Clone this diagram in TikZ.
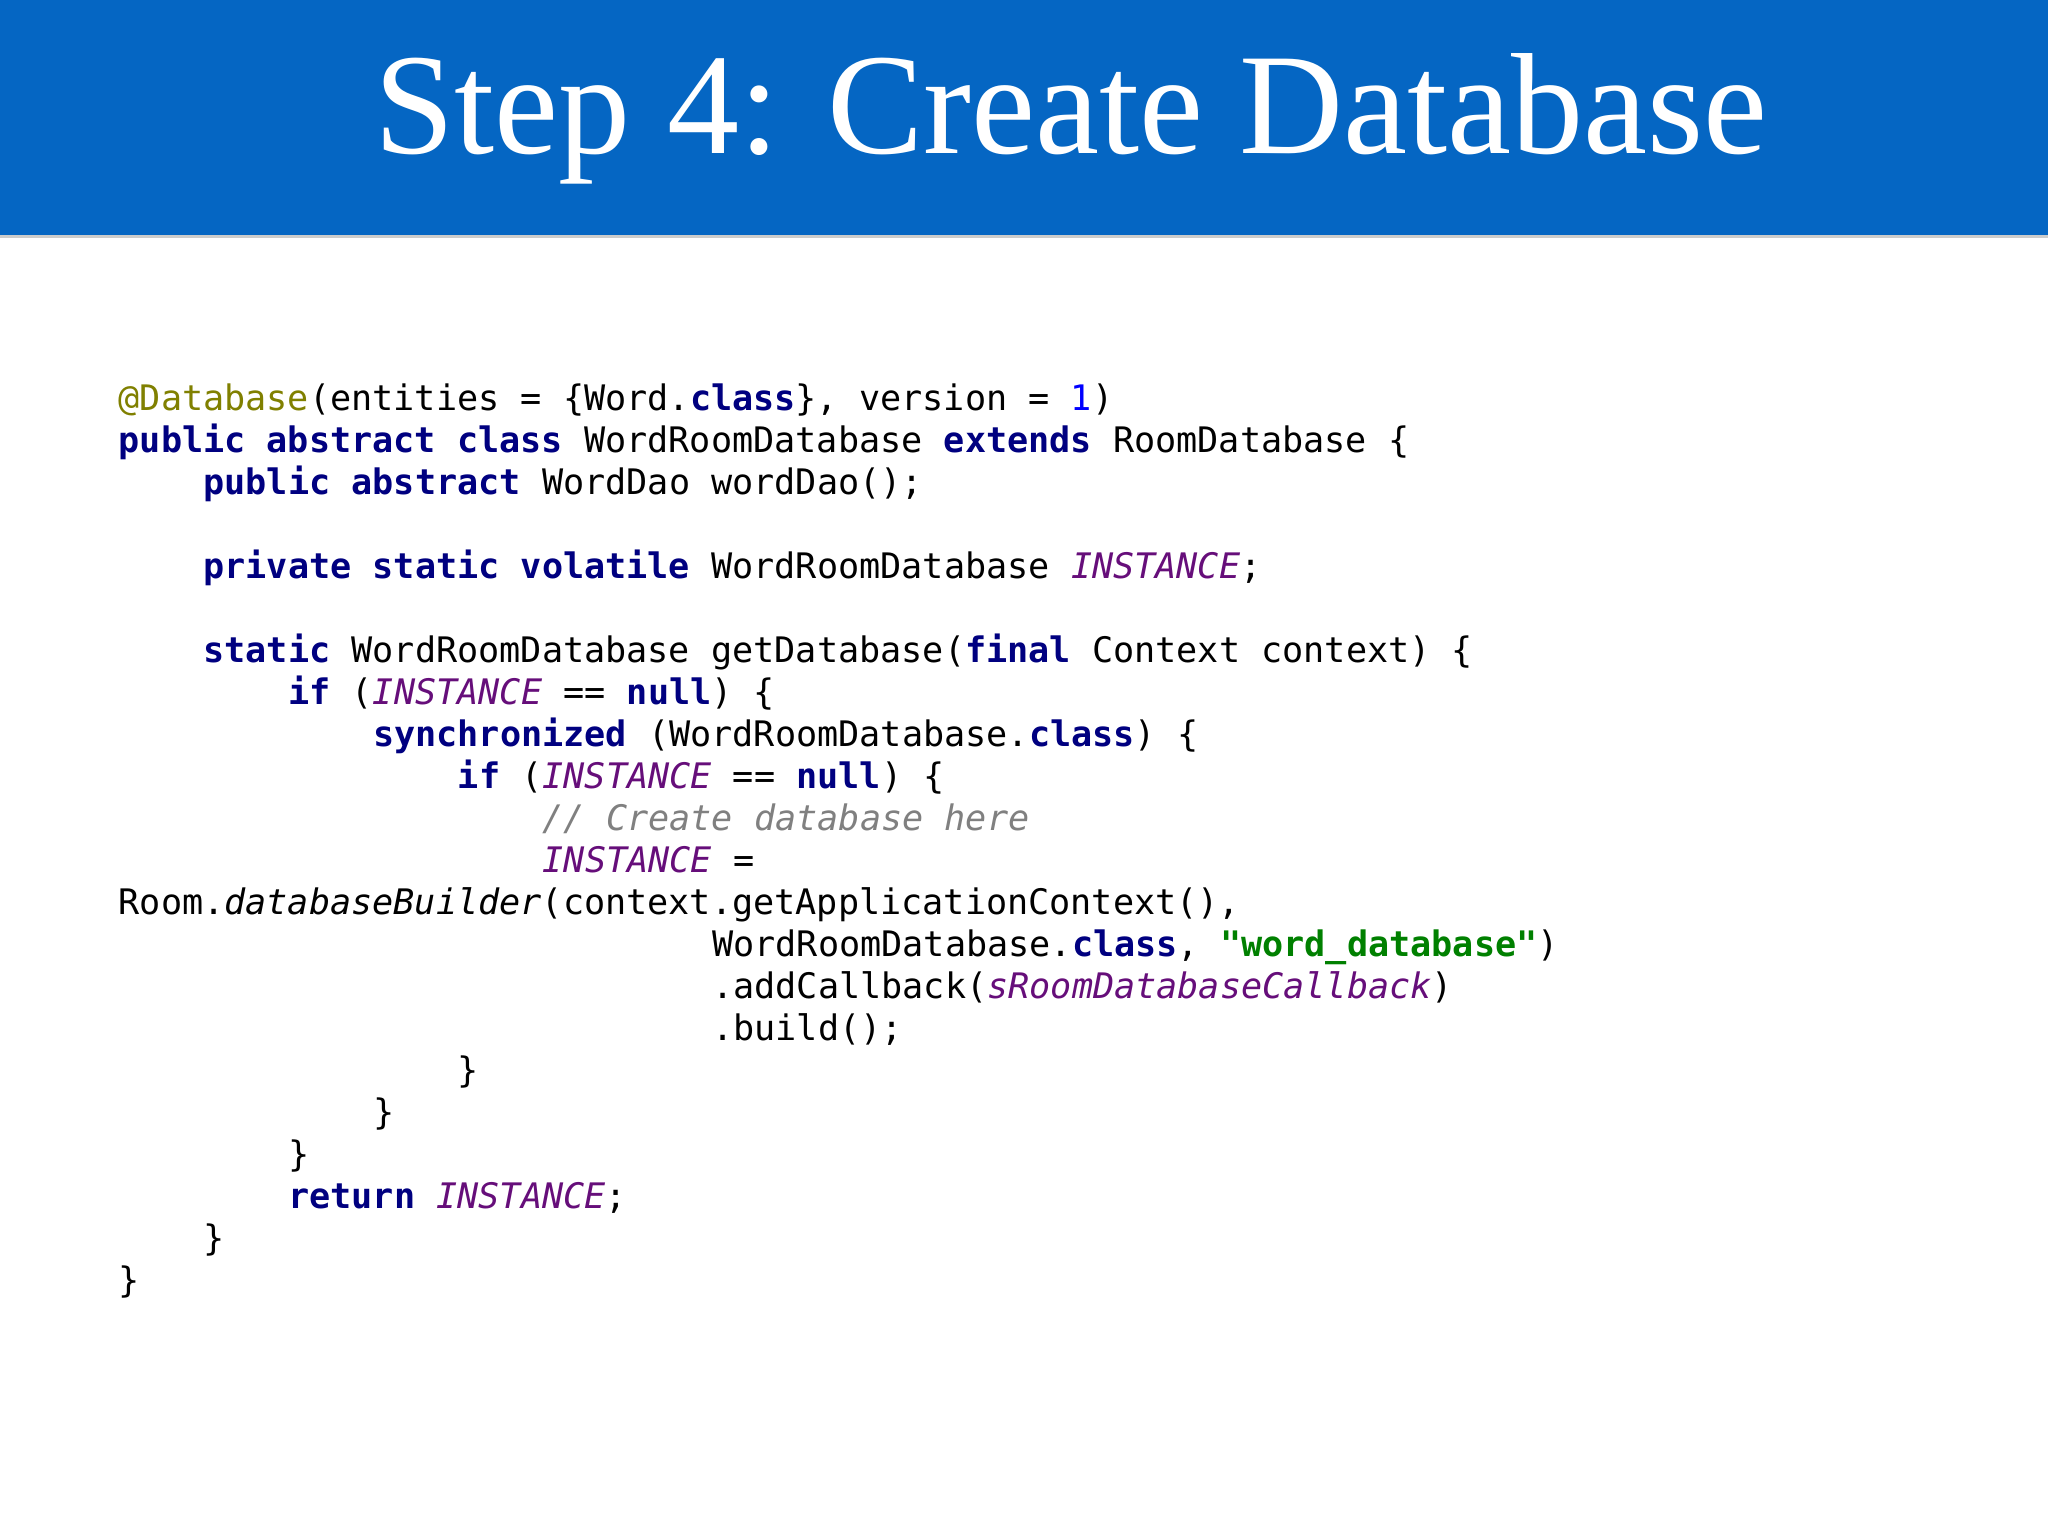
\documentclass[tikz,border=0pt]{standalone}
\usepackage{fontspec}
\setmainfont{Liberation Serif}
\setmonofont{DejaVu Sans Mono}
\definecolor{hdr}{HTML}{0566C3}
\definecolor{kw}{HTML}{000080}
\definecolor{ann}{HTML}{808000}
\definecolor{num}{HTML}{0000FF}
\definecolor{inst}{HTML}{660E7A}
\definecolor{cmt}{HTML}{808080}
\definecolor{str}{HTML}{008000}
\newcommand{\K}[1]{\textcolor{kw}{\bfseries #1}}
\newcommand{\I}[1]{\textcolor{inst}{\itshape #1}}
\tikzset{code/.style={anchor=base west,inner sep=0pt,font=\ttfamily\fontsize{10pt}{12pt}\selectfont}}
\begin{document}
\begin{tikzpicture}[x=1cm,y=1cm]
\useasboundingbox (0,0) rectangle (20.48,15.36);
\fill[white] (0,0) rectangle (20.48,15.36);
\fill[black!20] (0,12.98) rectangle (20.48,13.03);
\fill[hdr] (0,13.01) rectangle (20.48,15.36);
\node[anchor=base,text=white,font=\fontsize{41pt}{48pt}\selectfont] (title) at (10.71,13.82) {Step 4: Create Database};
\def\L{1.18}\def\C{0.212}
\node[code] (l0) at (\L,11.25) {\textcolor{ann}{@Database}(entities = \{Word.\K{class}\}, version = \textcolor{num}{1})};
\node[code] (l1) at (\L,10.83) {\K{public abstract class} WordRoomDatabase \K{extends} RoomDatabase \{};
\node[code] (l2) at (\L+4*\C,10.41) {\K{public abstract} WordDao wordDao();};
\node[code] (l4) at (\L+4*\C,9.57) {\K{private static volatile} WordRoomDatabase \I{INSTANCE};};
\node[code] (l6) at (\L+4*\C,8.73) {\K{static} WordRoomDatabase getDatabase(\K{final} Context context) \{};
\node[code] (l7) at (\L+8*\C,8.31) {\K{if} (\I{INSTANCE} == \K{null}) \{};
\node[code] (l8) at (\L+12*\C,7.89) {\K{synchronized} (WordRoomDatabase.\K{class}) \{};
\node[code] (l9) at (\L+16*\C,7.47) {\K{if} (\I{INSTANCE} == \K{null}) \{};
\node[code] (l10) at (\L+20*\C,7.05) {\textcolor{cmt}{\itshape // Create database here}};
\node[code] (l11) at (\L+20*\C,6.63) {\I{INSTANCE} =};
\node[code] (l12) at (\L,6.21) {Room.\textit{databaseBuilder}(context.getApplicationContext(),};
\node[code] (l13) at (\L+28*\C,5.79) {WordRoomDatabase.\K{class}, \textcolor{str}{\bfseries "word\_database"})};
\node[code] (l14) at (\L+28*\C,5.37) {.addCallback(\I{sRoomDatabaseCallback})};
\node[code] (l15) at (\L+28*\C,4.95) {.build();};
\node[code] (l16) at (\L+16*\C,4.53) {\}};
\node[code] (l17) at (\L+12*\C,4.11) {\}};
\node[code] (l18) at (\L+8*\C,3.69) {\}};
\node[code] (l19) at (\L+8*\C,3.27) {\K{return} \I{INSTANCE};};
\node[code] (l20) at (\L+4*\C,2.85) {\}};
\node[code] (l21) at (\L,2.43) {\}};
\end{tikzpicture}
\end{document}
